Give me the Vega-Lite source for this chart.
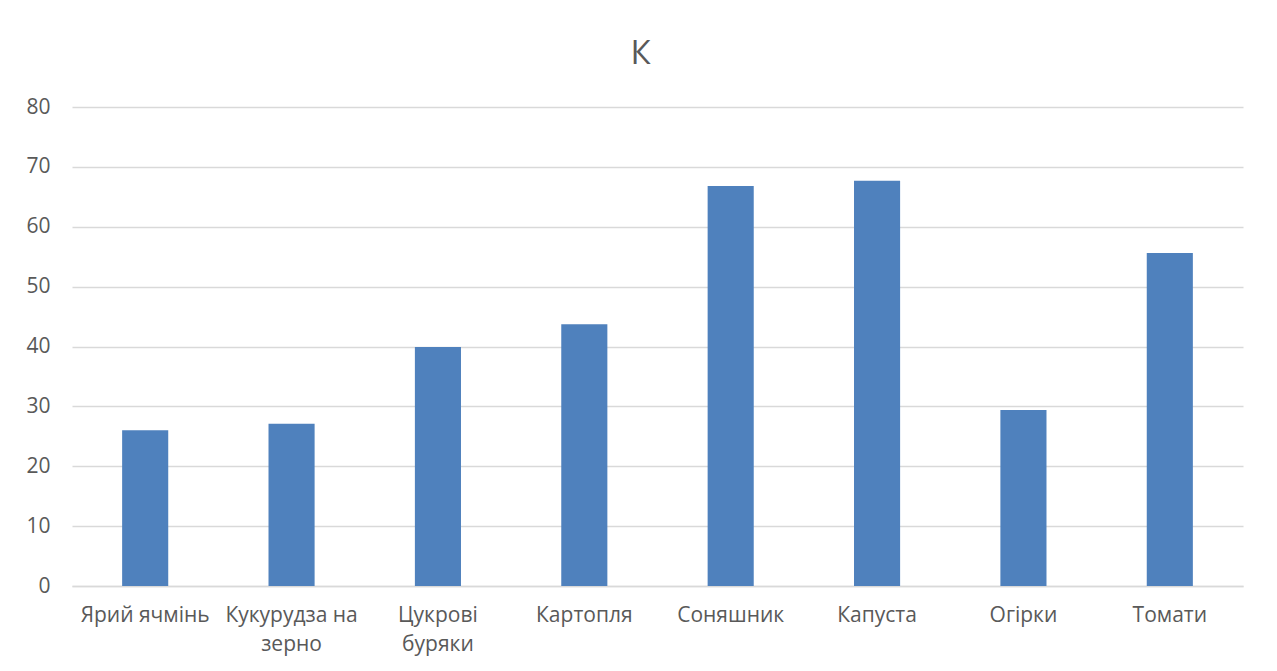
{
  "$schema": "https://vega.github.io/schema/vega-lite/v6.json",
  "autosize": {"type": "none"},
  "width": 1171,
  "height": 479,
  "padding": {"left": 72, "top": 107, "right": 34, "bottom": 85},
  "background": "#ffffff",
  "title": {
    "text": "К",
    "fontSize": 33,
    "font": "Open Sans",
    "fontWeight": "normal",
    "color": "#595959",
    "anchor": "middle",
    "dx": -17,
    "offset": 25
  },
  "data": {
    "values": [
      {"crop": "Ярий ячмінь", "value": 26.0},
      {"crop": "Кукурудза на зерно", "value": 27.1},
      {"crop": "Цукрові буряки", "value": 39.9},
      {"crop": "Картопля", "value": 43.7},
      {"crop": "Соняшник", "value": 66.8},
      {"crop": "Капуста", "value": 67.7},
      {"crop": "Огірки", "value": 29.4},
      {"crop": "Томати", "value": 55.6}
    ]
  },
  "mark": {"type": "bar", "color": "#4f81bd"},
  "encoding": {
    "x": {
      "field": "crop",
      "type": "nominal",
      "sort": null,
      "title": null,
      "scale": {"paddingInner": 0.685, "paddingOuter": 0.3425},
      "axis": {
        "labelAngle": 0,
        "labelFont": "Open Sans",
        "labelFontSize": 21,
        "labelColor": "#595959",
        "labelPadding": 18,
        "labelLineHeight": 29,
        "ticks": false,
        "domainColor": "#d9d9d9",
        "domainWidth": 1.5,
        "labelExpr": "datum.value == 'Кукурудза на зерно' ? ['Кукурудза на', 'зерно'] : datum.value == 'Цукрові буряки' ? ['Цукрові', 'буряки'] : datum.value"
      }
    },
    "y": {
      "field": "value",
      "type": "quantitative",
      "title": null,
      "scale": {"domain": [0, 80]},
      "axis": {
        "values": [0, 10, 20, 30, 40, 50, 60, 70, 80],
        "labelFont": "Open Sans",
        "labelFontSize": 21,
        "labelColor": "#595959",
        "labelPadding": 22,
        "ticks": false,
        "domain": false,
        "gridColor": "#d9d9d9",
        "gridWidth": 1.5
      }
    }
  },
  "config": {"view": {"stroke": null}}
}
